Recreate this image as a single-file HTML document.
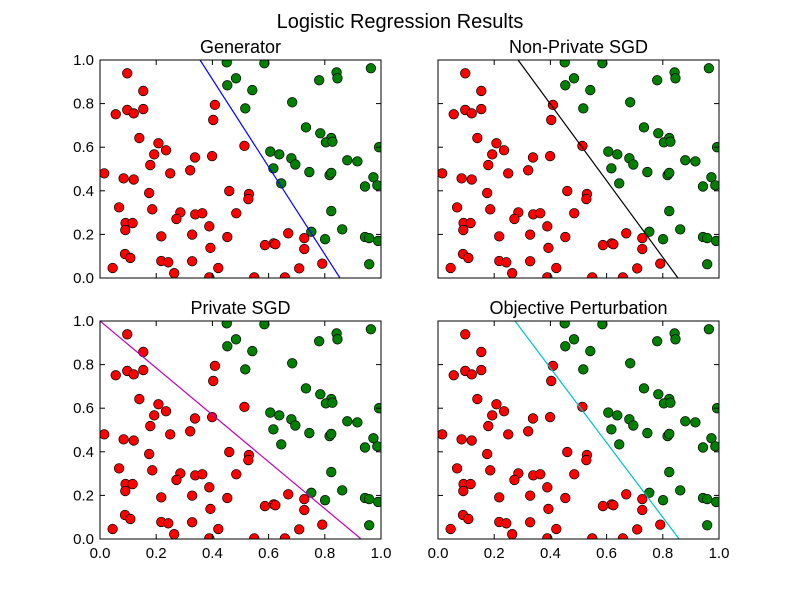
<!DOCTYPE html>
<html><head><meta charset="utf-8"><style>
body{margin:0;background:#fff;}
svg{display:block;font-family:"Liberation Sans","DejaVu Sans",sans-serif;}
</style></head><body>
<svg id="fig" width="800" height="600">
<rect width="800" height="600" fill="#fff"/>
<text x="400" y="28" text-anchor="middle" font-size="20">Logistic Regression Results</text>
</svg>
<script>
const redX=[.097,.154,.056,.097,.12,.154,.409,.403,.14,.208,.193,.235,.179,.338,.399,.015,.084,.12,.25,.321,.175,.46,.068,.186,.286,.272,.339,.364,.485,.091,.116,.09,.389,.218,.328,.453,.089,.108,.393,.045,.218,.243,.328,.264,.421,.389,.514,.53,.528,.67,.727,.727,.587,.618,.624,.709,.791,.549,.658];
const redY=[.939,.858,.751,.771,.755,.775,.794,.725,.642,.618,.567,.586,.518,.553,.559,.48,.457,.452,.48,.494,.39,.399,.324,.315,.301,.271,.292,.297,.297,.252,.252,.22,.237,.191,.199,.188,.11,.092,.138,.046,.078,.072,.077,.022,.046,.003,.606,.385,.362,.205,.183,.133,.151,.159,.155,.044,.066,.003,.003];
const greenX=[.585,.484,.542,.517,.684,.78,.842,.845,.964,.733,.784,.823,.804,.827,.993,.606,.638,.681,.695,.617,.88,.916,.745,.817,.823,.645,.973,.943,.987,.823,.752,.862,.801,.943,.958,.99,.958,.451,.453];
const greenY=[.985,.916,.862,.778,.806,.907,.943,.916,.962,.691,.664,.642,.622,.625,.6,.58,.567,.549,.521,.503,.54,.535,.486,.472,.482,.434,.462,.42,.425,.307,.212,.223,.178,.188,.183,.17,.063,.989,.884];
const panelTitles=["Generator","Non-Private SGD","Private SGD","Objective Perturbation"];
const lineTopX=[.356,.285,0.0,.274];
const lineBottomX=[.854,.854,.929,.858];
const lineColors=["#0000ff","#000000","#bf00bf","#00bfbf"];
const ticks=[0,0.2,0.4,0.6,0.8,1.0];
const tickLabels=["0.0","0.2","0.4","0.6","0.8","1.0"];
const NS="http://www.w3.org/2000/svg";
const svg=document.getElementById('fig');
function mk(tag,attrs,parent){const e=document.createElementNS(NS,tag);for(const k in attrs)e.setAttribute(k,attrs[k]);(parent||svg).appendChild(e);return e;}
const panels=[[100,60],[438,60],[100,321],[438,321]];
const W=281,H=218;
panels.forEach((p,i)=>{
  const [x0,y0]=p;
  const sx=v=>x0+v*W, sy=v=>y0+H-v*H;
  const g=mk('g',{});
  
  
  const cid='clip'+i;
  const cp=mk('clipPath',{id:cid},g);mk('rect',{x:x0,y:y0,width:W,height:H},cp);
  const t=mk('text',{x:x0+W/2,y:y0-7,'text-anchor':'middle','font-size':18},g);
  t.textContent=panelTitles[i];
  
  
  const dots=mk('g',{'clip-path':'url(#'+cid+')'},g);
  redX.forEach((v,j)=>{const c=mk('circle',{cx:sx(v),cy:sy(redY[j]),r:4.8,fill:'#ff0000',stroke:'#000','stroke-width':0.7},dots);
    
    });
  greenX.forEach((v,j)=>{const c=mk('circle',{cx:sx(v),cy:sy(greenY[j]),r:4.8,fill:'#008000',stroke:'#000','stroke-width':0.7},dots);
    
    });
  const ln=mk('line',{x1:sx(lineTopX[i]),y1:sy(1),x2:sx(lineBottomX[i]),y2:sy(0),stroke:lineColors[i],'stroke-width':1.2},dots);
  
  
  ticks.forEach((v,j)=>{
    mk('line',{x1:sx(v),y1:y0+H,x2:sx(v),y2:y0+H-5,stroke:'#000'},g);
    mk('line',{x1:sx(v),y1:y0,x2:sx(v),y2:y0+5,stroke:'#000'},g);
    mk('line',{x1:x0,y1:sy(v),x2:x0+5,y2:sy(v),stroke:'#000'},g);
    mk('line',{x1:x0+W,y1:sy(v),x2:x0+W-5,y2:sy(v),stroke:'#000'},g);
    if(i>=2){const tl=mk('text',{x:sx(v),y:y0+H+19,'text-anchor':'middle','font-size':15},g);tl.textContent=tickLabels[j];
      
      }
    if(i%2===0){const tl=mk('text',{x:x0-6,y:sy(v)+5,'text-anchor':'end','font-size':15},g);tl.textContent=tickLabels[j];
      
      }
  });
  mk('rect',{x:x0,y:y0,width:W,height:H,fill:'none',stroke:'#000','stroke-width':1},g);
});
</script>
</body></html>
